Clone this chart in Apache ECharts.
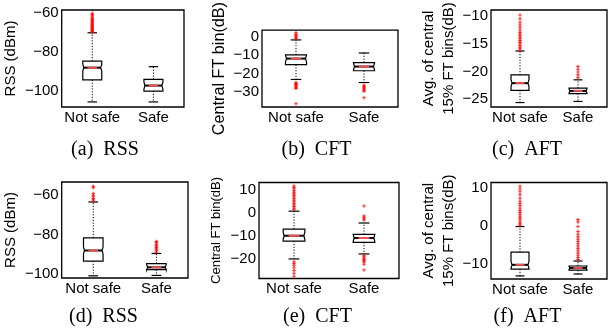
<!DOCTYPE html>
<html>
<head>
<meta charset="utf-8">
<script src="https://cdn.jsdelivr.net/npm/echarts@6/dist/echarts.min.js"></script>
<style>
  html, body { margin: 0; padding: 0; background: #fff; }
  #chart { width: 608px; height: 334px; }
</style>
</head>
<body>
<div id="chart"></div>
<script>
const categories = ["Not safe", "Safe"];

// box stats per group: [lower whisker, Q1, median, Q3, upper whisker]
// outliers per group: [Not safe, Safe]

// (a) RSS
const rssStatsA = [[-105.8, -94.5, -88.2, -84.8, -70.3], [-105.8, -100.2, -97.4, -94.2, -87.7]];
const rssOutliersA = [[-60.3, -60.9, -61.6, -62.2, -62.9, -63.5, -64.0, -64.5, -65.0, -65.5, -66.0, -66.4, -66.8, -67.2, -67.6, -68.0, -68.4, -68.8, -69.2, -69.6, -70.0], []];
const rssTicksA = [-100, -80, -60];
const rssRangeA = [-108.4, -58.6];

// (b) CFT
const cftStatsB = [[-23.3, -15.1, -11.8, -9.7, -1.5], [-25.0, -18.5, -16.2, -14.0, -8.7]];
const cftOutliersB = [
  [2.4, 1.6, 0.9, 0.3, -0.3, -0.8, -25.0, -25.6, -26.1, -26.7, -27.2, -27.8, -28.3, -36.7],
  [-26.5, -27.0, -27.5, -28.0, -28.6, -29.2, -29.8, -33.4]
];
const cftTicksB = [-30, -20, -10, 0];
const cftRangeB = [-38.5, 3.9];

// (c) AFT
const aftStatsC = [[-25.6, -23.4, -22.1, -20.6, -16.3], [-25.4, -24.0, -23.5, -23.0, -21.5]];
const aftOutliersC = [
  [-9.8, -10.5, -11.1, -11.6, -12.0, -12.5, -12.9, -13.2, -13.5, -13.8, -14.1, -14.4, -14.7, -15.0, -15.3, -15.6, -15.9, -16.2],
  [-19.1, -19.6, -20.1, -20.6, -21.1]
];
const aftTicksC = [-25, -20, -15, -10];
const aftRangeC = [-26.4, -8.9];

// (d) RSS
const rssStatsD = [[-100.9, -93.5, -88.1, -81.7, -63.6], [-100.7, -97.8, -96.6, -94.7, -89.6]];
const rssOutliersD = [
  [-55.6, -56.4, -59.3, -60.2, -61.0, -61.8, -62.5, -63.1],
  [-83.5, -84.1, -84.8, -85.4, -86.0, -86.6, -87.2, -87.8, -88.4, -89.0]
];
const rssTicksD = [-100, -80, -60];
const rssRangeD = [-102, -53.5];

// (e) CFT
const cftStatsE = [[-20.2, -12.4, -10.0, -7.1, 0.8], [-18.0, -12.9, -11.0, -9.4, -4.4]];
const cftOutliersE = [
  [11.9, 11.2, 10.5, 9.8, 9.1, 8.4, 7.7, 7.0, 6.3, 5.6, 4.9, 4.2, 3.5, 2.8, 2.1, 1.4, -21.4, -22.2, -23.0, -24.1, -25.3, -26.5, -27.8],
  [3.1, -1.3, -1.9, -2.5, -3.1, -18.6, -19.2, -19.8, -20.4, -21.0, -21.5, -22.5, -25.1]
];
const cftTicksE = [-20, -10, 0, 10];
const cftRangeE = [-28.8, 13.4];

// (f) AFT
const aftStatsF = [[-13.1, -11.3, -10.2, -6.9, -0.2], [-12.6, -11.6, -11.0, -10.5, -9.2]];
const aftOutliersF = [
  [10.3, 9.6, 8.9, 8.1, 7.2, 6.4, 5.8, 5.2, 4.6, 4.0, 3.5, 3.0, 2.5, 2.0, 1.5, 1.0, 0.5, 0.0],
  [1.6, 1.0, -0.2, -1.5, -2.2, -2.9, -3.5, -4.1, -4.7, -5.3, -5.9, -6.5, -7.1, -7.7, -8.3, -8.8]
];
const aftTicksF = [-10, 0, 10];
const aftRangeF = [-13.9, 11.3];

const panels = [
  {stats: rssStatsA, outliers: rssOutliersA, ticks: rssTicksA, range: rssRangeA, name: "RSS (dBm)", caption: "(a)  RSS"},
  {stats: cftStatsB, outliers: cftOutliersB, ticks: cftTicksB, range: cftRangeB, name: "Central FT bin(dB)", caption: "(b)  CFT"},
  {stats: aftStatsC, outliers: aftOutliersC, ticks: aftTicksC, range: aftRangeC, name: "Avg. of central\n15% FT bins(dB)", caption: "(c)  AFT"},
  {stats: rssStatsD, outliers: rssOutliersD, ticks: rssTicksD, range: rssRangeD, name: "RSS (dBm)", caption: "(d)  RSS"},
  {stats: cftStatsE, outliers: cftOutliersE, ticks: cftTicksE, range: cftRangeE, name: "Central FT bin(dB)", caption: "(e)  CFT"},
  {stats: aftStatsF, outliers: aftOutliersF, ticks: aftTicksF, range: aftRangeF, name: "Avg. of central\n15% FT bins(dB)", caption: "(f)  AFT"},
];

// plot boxes and label placement, in pixels
const layout = [
  {grid: {left: 60, top: 10, width: 124, height: 97}, nameGap: 36, nameSize: 15, cap: [105, 150]},
  {grid: {left: 262, top: 10, width: 136, height: 97}, nameGap: 31, nameSize: 16.2, cap: [316.5, 150]},
  {grid: {left: 491, top: 10, width: 116, height: 97}, nameGap: 27, nameSize: 15, cap: [527, 150]},
  {grid: {left: 60, top: 182, width: 128, height: 96}, nameGap: 36, nameSize: 15, cap: [103.5, 316.5]},
  {grid: {left: 259, top: 182.5, width: 140, height: 96}, nameGap: 29, nameSize: 13, cap: [317.5, 316.5]},
  {grid: {left: 491, top: 182.5, width: 116, height: 96.5}, nameGap: 27, nameSize: 15, cap: [527.5, 316.5]},
];

const sans = "'Liberation Sans', Arial, sans-serif";
const serif = "'Liberation Serif', 'Times New Roman', serif";
const minus = (v) => String(v).replace("-", "\u2212");

// notched box, dotted whiskers, short caps, black/red median
const renderBox = (params, api) => {
  const x = api.value(0);
  const low = api.coord([x, api.value(1)]);
  const q1 = api.coord([x, api.value(2)]);
  const med = api.coord([x, api.value(3)]);
  const q3 = api.coord([x, api.value(4)]);
  const high = api.coord([x, api.value(5)]);
  const band = api.size([1, 0])[0];
  const half = band * 0.155;
  const cap = half * 0.5;
  const cx = med[0];
  const nh = Math.max(0, Math.min(3.5, (q1[1] - q3[1]) / 2 - 0.5));
  const nd = nh > 1 ? 1 : 0;
  const dotted = {stroke: "#000", lineWidth: 1, lineDash: [1.2, 1.6]};
  const solid = {stroke: "#000", lineWidth: 1.2};
  return {
    type: "group",
    children: [
      {type: "line", shape: {x1: cx, y1: q3[1], x2: cx, y2: high[1]}, style: dotted},
      {type: "line", shape: {x1: cx, y1: q1[1], x2: cx, y2: low[1]}, style: dotted},
      {type: "line", shape: {x1: cx - cap, y1: high[1], x2: cx + cap, y2: high[1]}, style: solid},
      {type: "line", shape: {x1: cx - cap, y1: low[1], x2: cx + cap, y2: low[1]}, style: solid},
      {
        type: "polygon",
        shape: {points: [
          [cx - half, q3[1]], [cx + half, q3[1]], [cx + half, med[1] - nh], [cx + half - nd, med[1]],
          [cx + half, med[1] + nh], [cx + half, q1[1]], [cx - half, q1[1]], [cx - half, med[1] + nh],
          [cx - half + nd, med[1]], [cx - half, med[1] - nh],
        ]},
        style: {fill: "#fff", stroke: "#000", lineWidth: 1.2},
      },
      {type: "line", shape: {x1: cx - half + nd, y1: med[1], x2: cx + half - nd, y2: med[1]}, style: {stroke: "#000", lineWidth: 2}},
      {type: "line", shape: {x1: cx - half * 0.5, y1: med[1], x2: cx + half * 0.5, y2: med[1]}, style: {stroke: "#f25050", lineWidth: 2}},
    ],
  };
};

const grid = [];
const xAxis = [];
const yAxis = [];
const series = [];
const graphic = [];

const tickStyle = {inside: true, length: 3, lineStyle: {color: "#000", width: 1}};

panels.forEach((p, i) => {
  const L = layout[i];
  grid.push({...L.grid, show: true, borderColor: "#000", borderWidth: 1.3, backgroundColor: "#fff"});

  xAxis.push({
    gridIndex: i, type: "category", data: categories, position: "bottom",
    axisLine: {show: false}, axisTick: {...tickStyle, alignWithLabel: true},
    axisLabel: {interval: 0, color: "#000", fontSize: 15, fontFamily: sans, margin: 3},
    splitLine: {show: false},
  });
  xAxis.push({
    gridIndex: i, type: "category", data: categories, position: "top",
    axisLine: {show: false}, axisTick: {...tickStyle, alignWithLabel: true},
    axisLabel: {show: false}, splitLine: {show: false},
  });

  yAxis.push({
    gridIndex: i, type: "value", position: "left", min: p.range[0], max: p.range[1],
    name: p.name, nameLocation: "middle", nameGap: L.nameGap, nameRotate: 90,
    nameTextStyle: {color: "#000", fontSize: L.nameSize, fontFamily: sans, lineHeight: 20},
    axisLine: {show: false},
    axisTick: {...tickStyle, customValues: p.ticks},
    axisLabel: {customValues: p.ticks, formatter: minus, color: "#000", fontSize: 15, fontFamily: sans, margin: 3},
    splitLine: {show: false},
  });
  yAxis.push({
    gridIndex: i, type: "value", position: "right", min: p.range[0], max: p.range[1],
    axisLine: {show: false},
    axisTick: {...tickStyle, customValues: p.ticks},
    axisLabel: {show: false}, splitLine: {show: false},
  });

  series.push({
    type: "custom", xAxisIndex: 2 * i, yAxisIndex: 2 * i,
    renderItem: renderBox,
    encode: {x: 0, y: [1, 2, 3, 4, 5]},
    data: p.stats.map((s, k) => [k, ...s]),
    z: 2,
  });

  const pts = [];
  p.outliers.forEach((list, k) => list.forEach((v) => pts.push([k, v])));
  series.push({
    type: "scatter", xAxisIndex: 2 * i, yAxisIndex: 2 * i,
    symbol: "path://M0,3.5H10V6.5H0ZM3.5,0H6.5V10H3.5Z", symbolSize: 3.5,
    itemStyle: {color: "#ff0000"},
    data: pts, z: 3,
  });

  graphic.push({
    type: "text", x: L.cap[0], y: L.cap[1],
    style: {text: p.caption, fill: "#000", fontFamily: serif, fontSize: 20, align: "center", verticalAlign: "middle"},
  });
});

const chart = echarts.init(document.getElementById("chart"));
chart.setOption({animation: false, backgroundColor: "#fff", grid, xAxis, yAxis, series, graphic});
</script>
</body>
</html>
